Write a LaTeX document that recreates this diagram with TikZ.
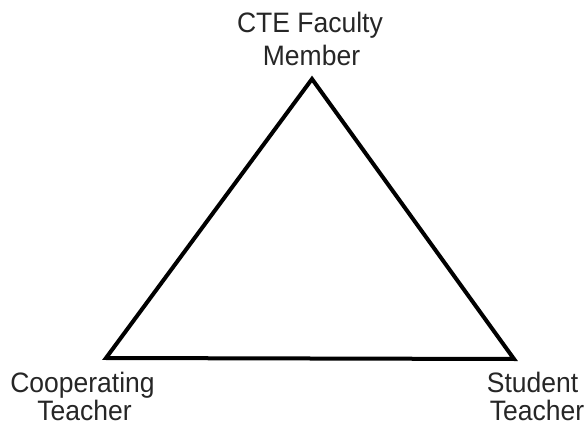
\documentclass[tikz,border=0pt]{standalone}
\usepackage{fontspec}
\setmainfont{Liberation Sans}
\newcommand{\tallish}[1]{\scalebox{1}[1.06]{#1}}
\begin{document}
\begin{tikzpicture}[x=1pt,y=-1pt,
  lbl/.style={anchor=base,inner sep=0pt,font=\fontsize{26.5}{30}\selectfont,text=black!85},
  edge/.style={line width=4pt,line join=miter,black}]
\useasboundingbox (0,0) rectangle (586,427);
\coordinate (top) at (312,79);
\coordinate (bl) at (106,358);
\coordinate (br) at (514,359);
\draw[edge] (top) -- (bl) -- (br) -- cycle;
\node[lbl] (cte) at (310,33) {\tallish{CTE Faculty}};
\node[lbl] (mem) at (311.5,66) {\tallish{Member}};
\node[lbl] (coop) at (82.5,392) {\tallish{Cooperating}};
\node[lbl] (teach1) at (84.5,420) {\tallish{Teacher}};
\node[lbl] (stud) at (532.5,392) {\tallish{Student}};
\node[lbl] (teach2) at (537,420) {\tallish{Teacher}};
\end{tikzpicture}
\end{document}
